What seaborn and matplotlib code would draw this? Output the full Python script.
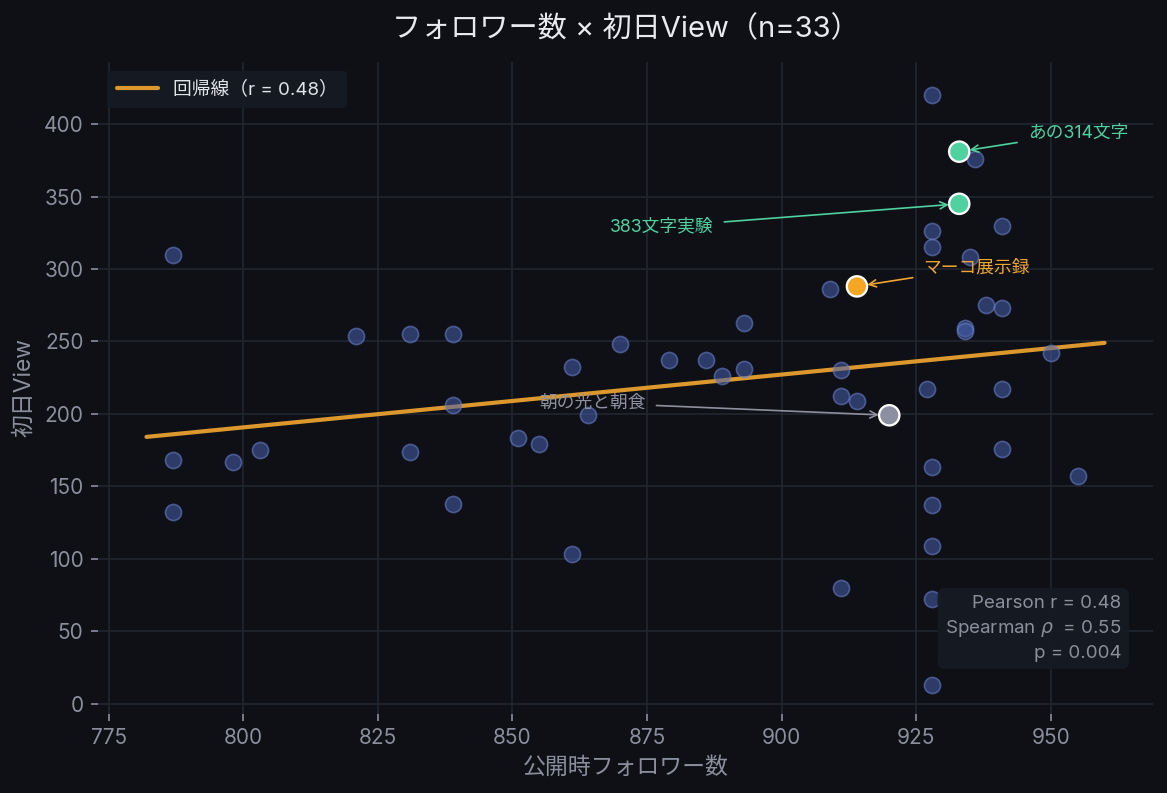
#!/usr/bin/env python3
'''
Followers at publish time vs first-day views, with regression line
and a few highlighted posts.
'''

import matplotlib
matplotlib.use("Agg")
import matplotlib.pyplot as plt
import seaborn as sns
import pandas as pd
import numpy as np

# data
followers = [787, 787, 787, 798, 803, 821, 831, 831, 839, 839, 839, 851, 855,
             861, 861, 864, 870, 879, 886, 889, 893, 893, 909, 911, 911, 911,
             914, 914, 920, 927, 928, 928, 928, 928, 928, 928, 928, 928, 933,
             933, 934, 934, 935, 936, 938, 941, 941, 941, 941, 950, 955]
views = [310, 168, 132, 167, 175, 254, 255, 174, 255, 206, 138, 183, 179,
         232, 103, 199, 248, 237, 237, 226, 263, 231, 286, 230, 212, 80,
         288, 209, 199, 217, 420, 326, 315, 163, 137, 109, 72, 13, 381,
         345, 259, 257, 308, 376, 275, 273, 330, 217, 176, 242, 157]

hl_names = ["あの314文字", "383文字実験", "マーコ展示録", "朝の光と朝食"]
hl_followers = [933, 933, 914, 920]
hl_views = [381, 345, 288, 199]
hl_colors = ["#4fd1a0", "#4fd1a0", "#f5a623", "#8c8ea2"]
hl_text_colors = ["#4fd1a0", "#4fd1a0", "#f0a530", "#8e909e"]

pearson_r = 0.48
spearman_rho = 0.55
p_value = 0.004
n_posts = 33

BG = "#0e1016"
GRID = "#22262f"
MUTED = "#8b8f9c"

def main():
    df = pd.DataFrame({"followers": followers, "views": views})
    hl = pd.DataFrame({"name": hl_names, "followers": hl_followers,
                       "views": hl_views, "color": hl_colors})

    sns.set_theme(style="darkgrid")
    plt.rcParams['font.family'] = ['Inter', 'Noto Sans CJK JP', 'DejaVu Sans']
    plt.rcParams['axes.unicode_minus'] = False

    fig, ax = plt.subplots(figsize=(1167 / 150, 793 / 150), dpi=150)
    fig.patch.set_facecolor(BG)
    ax.set_facecolor(BG)

    # base points
    sns.scatterplot(data=df, x="followers", y="views", ax=ax, s=60,
                    color="#4660ac", alpha=0.55, edgecolor="#6f86d6",
                    linewidth=0.8, zorder=3)

    # regression line
    slope, intercept = np.polyfit(df["followers"], df["views"], 1)
    xs = np.array([df["followers"].min() - 5, df["followers"].max() + 5])
    ax.plot(xs, slope * xs + intercept, color="#dc982c", lw=2, zorder=2,
            label=f"回帰線（r = {pearson_r:.2f}）")

    # highlighted posts
    sns.scatterplot(data=hl, x="followers", y="views", ax=ax, s=95,
                    hue="name", palette=dict(zip(hl_names, hl_colors)),
                    edgecolor="white", linewidth=1.1, legend=False, zorder=5)

    offsets = [(33, 9), (-118, -11), (32, 9), (-117, 6)]
    aligns = ["left", "right", "left", "right"]
    for i in range(len(hl_names)):
        ax.annotate(hl_names[i], (hl_followers[i], hl_views[i]),
                    xytext=offsets[i], textcoords="offset points",
                    ha=aligns[i], va="center", fontsize=8.5,
                    color=hl_text_colors[i],
                    arrowprops=dict(arrowstyle="->", color=hl_text_colors[i],
                                    lw=0.8, shrinkA=3, shrinkB=5))

    # stats box
    ax.text(0.97, 0.08,
            f"Pearson r = {pearson_r:.2f}\nSpearman $\\rho$  = {spearman_rho:.2f}\np = {p_value:.3f}",
            transform=ax.transAxes, ha="right", va="bottom", fontsize=9,
            color=MUTED, linespacing=1.4, zorder=6,
            bbox=dict(boxstyle="round,pad=0.4", facecolor="#161a22",
                      edgecolor="none", alpha=0.95))

    ax.set_xlim(773, 969)
    ax.set_ylim(-7, 443)
    ax.set_xticks([775, 800, 825, 850, 875, 900, 925, 950])
    ax.set_yticks([0, 50, 100, 150, 200, 250, 300, 350, 400])

    ax.grid(True, color=GRID, lw=0.8)
    for s in ax.spines.values():
        s.set_visible(False)
    ax.tick_params(colors=MUTED, labelsize=10, length=3.5, width=0.8,
                   bottom=True, left=True)

    ax.set_xlabel("公開時フォロワー数", color=MUTED, fontsize=11)
    ax.set_ylabel("初日View", color=MUTED, fontsize=11)
    ax.set_title(f"フォロワー数 × 初日View（n={n_posts}）", color="#e8eaef",
                 fontsize=14, pad=12)

    leg = ax.legend(loc="upper left", fontsize=9, facecolor="#161a22",
                    edgecolor="none", framealpha=0.95, borderpad=0.5,
                    handlelength=2.2)
    for t in leg.get_texts():
        t.set_color("#e2e4ea")

    fig.subplots_adjust(left=0.084, right=0.988, bottom=0.1, top=0.922)
    fig.savefig("out.png", dpi=150, facecolor=BG)


if __name__ == "__main__":
    main()
